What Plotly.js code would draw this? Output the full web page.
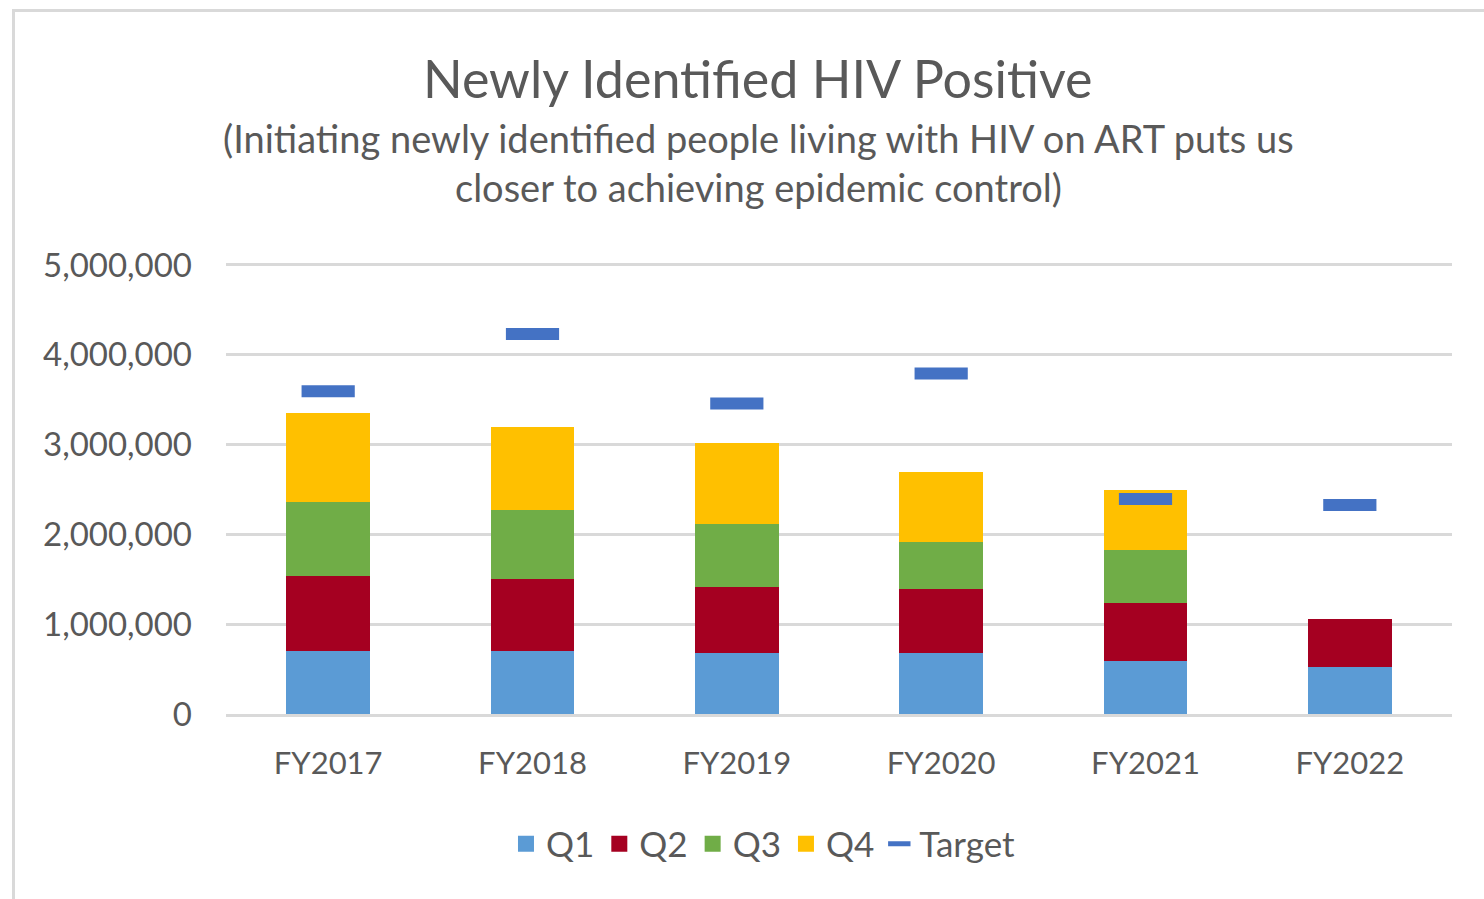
<!DOCTYPE html>
<html>
<head>
<meta charset="utf-8">
<script src="https://cdn.plot.ly/plotly-3.0.1.min.js"></script>
<style>
  html, body { margin: 0; padding: 0; background: #ffffff; overflow: hidden; }
  #frame { position: absolute; left: 12px; top: 9px; width: 1490px; height: 900px;
           border-left: 3px solid #d9d9d9; border-top: 3px solid #d9d9d9; }
  #chart { position: absolute; left: 0; top: 0; width: 1484px; height: 899px; }
</style>
</head>
<body>
<div id="frame"></div>
<div id="chart"></div>
<script>
const categories = ["FY2017", "FY2018", "FY2019", "FY2020", "FY2021", "FY2022"];
const q1 = [702000, 702000, 679000, 679000, 595000, 523000];
const q2 = [839000, 798000, 732000, 710000, 638000, 532000];
const q3 = [820000, 772000, 709000, 531000, 598000, null];
const q4 = [995000, 924000, 902000, 772000, 663000, null];
const target = [3594000, 4232000, 3457000, 3791000, 2394000, 2327000];
const seriesNames = ["Q1", "Q2", "Q3", "Q4"];
const seriesColors = ["#5B9BD5", "#A50021", "#70AD47", "#FFC000"];
const targetColor = "#4472C4";
const yTicks = [0, 1000000, 2000000, 3000000, 4000000, 5000000];

const FONT = "Lato, 'Open Sans', sans-serif";
const TXT = "#595959";

const quarterValues = [q1, q2, q3, q4];
const data = [];
quarterValues.forEach(function (vals, i) {
  data.push({ type: "bar", name: seriesNames[i], x: categories, y: vals, showlegend: false,
              legendgroup: seriesNames[i],
              marker: { color: seriesColors[i], line: { width: 0 } } });
});
// legend entries (square swatches like the original)
seriesNames.forEach(function (n, i) {
  data.push({ type: "scatter", mode: "markers", name: n, x: [null], y: [null],
              legendgroup: n, showlegend: true,
              marker: { symbol: "square", size: 20, color: seriesColors[i] } });
});
data.push({ type: "scatter", mode: "markers", name: "Target", x: categories, y: target,
            marker: { symbol: "line-ew-open", size: 38, color: targetColor,
                      line: { color: targetColor, width: 12 } } });

const layout = {
  width: 1484, height: 899,
  paper_bgcolor: "rgba(0,0,0,0)", plot_bgcolor: "rgba(0,0,0,0)",
  margin: { l: 226, r: 32, t: 256, b: 185 },
  barmode: "stack", bargap: 0.59,
  font: { family: FONT, color: TXT, size: 31 },
  xaxis: { type: "category", showgrid: false, zeroline: false, ticks: "",
           showline: true, linecolor: "#d9d9d9", linewidth: 3,
           tickfont: { size: 31, color: TXT }, ticklabelstandoff: 20 },
  yaxis: { range: [0, 5100000], tickvals: yTicks,
           tickformat: ",d",
           showgrid: true, gridcolor: "#d9d9d9", gridwidth: 3,
           zeroline: false, showline: false, ticks: "",
           tickfont: { size: 33, color: TXT }, ticklabelstandoff: 33 },
  showlegend: true,
  legend: { orientation: "h", x: 0.438, xanchor: "center", y: -0.284, yanchor: "middle",
            font: { size: 35, color: TXT }, traceorder: "normal", itemwidth: 30 },
  annotations: [
    { text: "Newly Identified HIV Positive", xref: "paper", yref: "paper",
      x: 0.434, y: 1.388, xanchor: "center", yanchor: "middle", showarrow: false,
      font: { size: 52, color: TXT, family: FONT } },
    { text: "(Initiating newly identified people living with HIV on ART puts us", xref: "paper", yref: "paper",
      x: 0.434, y: 1.258, xanchor: "center", yanchor: "middle", showarrow: false,
      font: { size: 38, color: TXT, family: FONT } },
    { text: "closer to achieving epidemic control)", xref: "paper", yref: "paper",
      x: 0.434, y: 1.150, xanchor: "center", yanchor: "middle", showarrow: false,
      font: { size: 38, color: TXT, family: FONT } }
  ]
};

Plotly.newPlot("chart", data, layout, { displayModeBar: false, staticPlot: true });
</script>
</body>
</html>
